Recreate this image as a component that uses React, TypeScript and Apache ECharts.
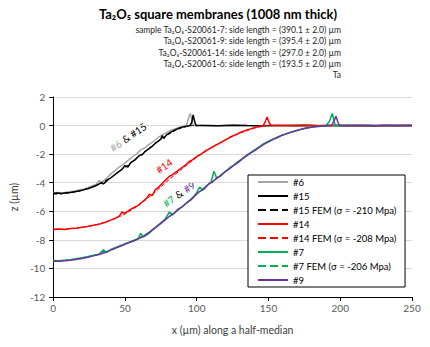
import React, { useEffect, useRef } from "react";
import * as echarts from "echarts";

const FONT = "Lato, 'DejaVu Sans', sans-serif";

const titleText = "Ta₂O₅ square membranes (1008 nm thick)";
const subtitleLines = [
  "sample Ta₂O₅-S20061-7: side length = (390.1 ± 2.0) µm",
  "Ta₂O₅-S20061-9: side length = (395.4 ± 2.0) µm",
  "Ta₂O₅-S20061-14: side length = (297.0 ± 2.0) µm",
  "Ta₂O₅-S20061-6: side length = (193.5 ± 2.0) µm",
  "Ta",
];

const xTicks = { min: 0, max: 250, interval: 50 };
const yTicks = { min: -12, max: 2, interval: 2 };

const flatTail: number[][] = [
  [105, 0.01], [115, -0.01], [125, 0.02], [135, 0], [145, -0.01], [155, 0.01],
  [165, 0], [175, 0.02], [185, -0.01], [195, 0], [205, 0.01], [215, 0],
  [225, -0.01], [235, 0.01], [250, 0],
];

const s6: number[][] = [
  [0, -4.7], [3, -4.68], [6, -4.72], [9, -4.66], [12, -4.62], [15, -4.58], [18, -4.5],
  [21, -4.45], [24, -4.35], [27, -4.22], [30, -4.1], [32, -3.85], [34, -3.95], [37, -3.7],
  [40, -3.4], [43, -3.15], [46, -2.9], [49, -2.7], [52, -2.45], [55, -2.2], [58, -2.0],
  [61, -1.7], [64, -1.55], [67, -1.3], [70, -1.1], [73, -0.85], [76, -0.65], [79, -0.5],
  [82, -0.32], [85, -0.22], [88, -0.12], [91, -0.05], [93, 0.05], [94.5, 0.6], [95.5, 0.85],
  [97, 0.2], [98, 0], [100, 0], ...flatTail,
];

const s15: number[][] = [
  [0, -4.74], [3, -4.72], [6, -4.76], [9, -4.7], [12, -4.68], [15, -4.63], [18, -4.58],
  [21, -4.5], [24, -4.42], [27, -4.32], [30, -4.2], [33, -4.02], [35, -4.08], [38, -3.8],
  [41, -3.6], [44, -3.35], [46, -3.2], [48, -3.05], [50, -2.8], [52, -2.9], [54, -2.6],
  [57, -2.4], [60, -2.1], [62, -2.05], [64, -1.82], [67, -1.6], [69, -1.45], [71, -1.25],
  [73, -1.1], [75, -0.95], [76, -0.7], [77, -0.9], [79, -0.65], [82, -0.45], [85, -0.3],
  [88, -0.16], [91, -0.08], [93, -0.04], [95, -0.02], [96.5, 0.2], [97.5, 0.75], [98.5, 0.3],
  [99.5, 0], ...flatTail,
];

const s15fem: number[][] = [
  [0, -4.8], [5, -4.78], [10, -4.73], [15, -4.65], [20, -4.54], [25, -4.38], [30, -4.18],
  [35, -3.93], [40, -3.64], [45, -3.3], [50, -2.93], [55, -2.53], [60, -2.12], [65, -1.72],
  [70, -1.33], [75, -0.96], [80, -0.63], [85, -0.35], [90, -0.14], [95, -0.02], [97, 0],
  [250, 0],
];

const s14: number[][] = [
  [0, -7.25], [4, -7.24], [8, -7.27], [12, -7.2], [16, -7.18], [20, -7.12], [24, -7.06],
  [28, -6.98], [32, -6.9], [36, -6.78], [40, -6.62], [43, -6.5], [46, -6.34], [48, -6.05],
  [50, -6.15], [53, -5.92], [56, -5.75], [59, -5.6], [62, -5.35], [65, -5.1], [67, -4.8],
  [69, -4.9], [71, -4.5], [73, -4.35], [75, -4.15], [77, -3.95], [79, -3.75], [81, -3.55],
  [83, -3.45], [85, -3.3], [87, -3.15], [89, -3.0], [91, -2.85], [93, -2.7], [95, -2.5],
  [97, -2.4], [99, -2.25], [101, -2.1], [103, -2.0], [105, -1.85], [107, -1.72], [109, -1.62],
  [111, -1.5], [113, -1.38], [115, -1.28], [117, -1.18], [119, -1.05], [121, -0.95],
  [123, -0.82], [125, -0.72], [128, -0.6], [131, -0.45], [134, -0.35], [137, -0.25],
  [140, -0.15], [143, -0.07], [146, -0.02], [147.5, 0.2], [149, 0.6], [150.5, 0.2], [152, 0],
  [160, 0.01], [170, -0.01], [180, 0.01], [190, 0], [200, 0.01], [215, -0.01], [230, 0.01],
  [250, 0],
];

const s14fem: number[][] = [
  [0, -7.3], [10, -7.24], [20, -7.12], [30, -6.93], [40, -6.64], [50, -6.2], [60, -5.55],
  [70, -4.75], [80, -3.85], [90, -3.0], [100, -2.22], [110, -1.55], [120, -1.0], [130, -0.53],
  [140, -0.18], [148, 0], [250, 0],
];

const s7: number[][] = [
  [0, -9.45], [4, -9.46], [8, -9.42], [12, -9.4], [16, -9.33], [20, -9.26], [24, -9.18],
  [28, -9.08], [32, -9.0], [35, -8.7], [37, -8.9], [40, -8.68], [44, -8.52], [48, -8.35],
  [52, -8.2], [56, -8.05], [59, -7.95], [61, -7.55], [63, -7.8], [66, -7.55], [69, -7.3],
  [72, -7.05], [75, -6.8], [78, -6.55], [81, -6.05], [83, -6.25], [86, -6.0], [89, -5.75],
  [92, -5.5], [95, -5.25], [98, -4.95], [100, -4.7], [102, -4.3], [104, -4.5], [107, -4.2],
  [110, -3.95], [112, -3.2], [114, -3.7], [117, -3.45], [120, -3.2], [123, -2.95],
  [126, -2.75], [129, -2.5], [132, -2.3], [135, -2.05], [138, -1.85], [141, -1.65],
  [144, -1.45], [147, -1.25], [150, -1.1], [153, -0.95], [156, -0.82], [159, -0.7],
  [162, -0.58], [166, -0.45], [170, -0.33], [174, -0.22], [178, -0.14], [182, -0.08],
  [186, -0.04], [190, -0.01], [192.5, 0.3], [194.5, 0.85], [196, 0.2], [197, 0],
  [205, 0.02], [212, -0.02], [220, 0.03], [228, -0.01], [236, 0.02], [243, -0.02], [250, 0.01],
];

const s7fem: number[][] = [
  [0, -9.52], [10, -9.42], [20, -9.27], [30, -9.05], [40, -8.74], [50, -8.3], [60, -7.85],
  [70, -7.25], [80, -6.45], [90, -5.67], [100, -4.75], [110, -3.95], [120, -3.2], [130, -2.45],
  [140, -1.75], [150, -1.12], [160, -0.65], [170, -0.33], [180, -0.1], [190, 0], [250, 0],
];

const s9: number[][] = [
  [0, -9.48], [4, -9.5], [8, -9.46], [12, -9.43], [16, -9.38], [20, -9.3], [24, -9.22],
  [28, -9.12], [32, -9.02], [36, -8.88], [40, -8.72], [44, -8.55], [48, -8.4], [52, -8.22],
  [56, -8.08], [60, -7.9], [63, -7.75], [66, -7.6], [69, -7.32], [72, -7.1], [75, -6.85],
  [78, -6.6], [81, -6.35], [84, -6.15], [87, -5.85], [90, -5.68], [93, -5.4], [96, -5.2],
  [99, -4.9], [102, -4.62], [105, -4.45], [108, -4.12], [111, -3.95], [114, -3.68],
  [117, -3.5], [120, -3.22], [123, -3.02], [126, -2.78], [129, -2.58], [132, -2.32],
  [135, -2.1], [138, -1.9], [141, -1.72], [144, -1.5], [147, -1.3], [150, -1.14], [153, -0.98],
  [156, -0.85], [159, -0.7], [162, -0.6], [166, -0.46], [170, -0.35], [174, -0.23],
  [178, -0.16], [182, -0.09], [186, -0.05], [190, -0.02], [194, 0.02], [195.5, 0.3],
  [197, 0.65], [198.5, 0.2], [199.5, 0], [206, -0.02], [214, 0.02], [222, -0.01],
  [230, 0.02], [238, -0.02], [245, 0.01], [250, 0],
];

const seriesDefs = [
  { name: "#6", data: s6, color: "#a6a6a6", width: 1.5, type: "solid" },
  { name: "#15", data: s15, color: "#000000", width: 1.5, type: "solid" },
  { name: "#15 FEM (σ = -210 Mpa)", data: s15fem, color: "#000000", width: 1, type: "dashed" },
  { name: "#14", data: s14, color: "#ff0000", width: 1.5, type: "solid" },
  { name: "#14 FEM (σ = -208 Mpa)", data: s14fem, color: "#ff0000", width: 1, type: "dashed" },
  { name: "#7", data: s7, color: "#00b050", width: 1.5, type: "solid" },
  { name: "#7 FEM (σ = -206 Mpa)", data: s7fem, color: "#00b050", width: 1, type: "dashed" },
  { name: "#9", data: s9, color: "#7030a0", width: 1.5, type: "solid" },
];

export default function App() {
  const ref = useRef<HTMLDivElement>(null);
  useEffect(() => {
    if (!ref.current) return;
    document.body.style.margin = "0";
    const chart = echarts.init(ref.current, null, { renderer: "svg" });
    const rot = 0.61;
    chart.setOption({
      animation: false,
      textStyle: { fontFamily: FONT },
      grid: { left: 52, right: 18, top: 97, bottom: 50 },
      xAxis: {
        type: "value",
        min: xTicks.min,
        max: xTicks.max,
        interval: xTicks.interval,
        name: "x (µm) along a half-median",
        nameLocation: "middle",
        nameGap: 27,
        nameTextStyle: { color: "#404040", fontSize: 10.5, fontFamily: FONT },
        axisLine: { show: true, onZero: false, lineStyle: { color: "#000", width: 1 } },
        axisTick: { show: true, length: 4, lineStyle: { color: "#000" } },
        axisLabel: { color: "#595959", fontSize: 10, margin: 6, fontFamily: FONT },
        splitLine: { show: false },
      },
      yAxis: {
        type: "value",
        min: yTicks.min,
        max: yTicks.max,
        interval: yTicks.interval,
        name: "z (µm)",
        nameLocation: "middle",
        nameGap: 30,
        nameTextStyle: { color: "#404040", fontSize: 10.5, fontFamily: FONT },
        axisLine: { show: true, onZero: false, lineStyle: { color: "#000", width: 1 } },
        axisTick: { show: true, length: 4, lineStyle: { color: "#000" } },
        axisLabel: { color: "#595959", fontSize: 10, margin: 8, fontFamily: FONT },
        splitLine: { show: true, lineStyle: { color: "#d9d9d9", width: 1 } },
      },
      legend: {
        orient: "vertical",
        left: 248,
        top: 175,
        itemWidth: 30,
        itemHeight: 10,
        itemGap: 4,
        itemTextGap: 4,
        padding: [2, 9, 2, 9],
        borderColor: "#000",
        borderWidth: 1,
        backgroundColor: "#fff",
        itemStyle: { opacity: 0 },
        textStyle: { fontSize: 9.5, color: "#000", fontFamily: FONT, lineHeight: 10 },
        data: seriesDefs.map((s) => s.name),
      },
      series: seriesDefs.map((s) => ({
        name: s.name,
        type: "line",
        data: s.data,
        symbol: "none",
        showSymbol: false,
        smooth: false,
        color: s.color,
        lineStyle: { color: s.color, width: s.width, type: s.type },
      })),
      graphic: [
        {
          type: "text",
          x: 218,
          y: 14,
          style: {
            text: titleText,
            align: "center",
            verticalAlign: "middle",
            fontSize: 13,
            fontWeight: "bold",
            fill: "#000",
            fontFamily: FONT,
          },
        },
        ...subtitleLines.map((t, i) => ({
          type: "text",
          x: 341,
          y: 30 + i * 11.25,
          style: {
            text: t,
            align: "right",
            verticalAlign: "middle",
            fontSize: 8.5,
            fill: "#262626",
            fontFamily: FONT,
          },
        })),
        {
          type: "text",
          x: 128,
          y: 137,
          rotation: rot,
          style: {
            text: "{g|#6} {k|& #15}",
            align: "center",
            verticalAlign: "middle",
            fontFamily: FONT,
            rich: {
              g: { fill: "#a6a6a6", fontSize: 10, fontFamily: FONT },
              k: { fill: "#000", fontSize: 10, fontFamily: FONT },
            },
          },
        },
        {
          type: "text",
          x: 164,
          y: 166,
          rotation: rot,
          style: {
            text: "#14",
            align: "center",
            verticalAlign: "middle",
            fontSize: 10,
            fill: "#ff0000",
            fontFamily: FONT,
          },
        },
        {
          type: "text",
          x: 179,
          y: 194,
          rotation: rot,
          style: {
            text: "{g|#7} {k|&} {p|#9}",
            align: "center",
            verticalAlign: "middle",
            fontFamily: FONT,
            rich: {
              g: { fill: "#00b050", fontSize: 10, fontFamily: FONT },
              k: { fill: "#000", fontSize: 10, fontFamily: FONT },
              p: { fill: "#7030a0", fontSize: 10, fontFamily: FONT },
            },
          },
        },
      ],
    });
    return () => chart.dispose();
  }, []);
  return <div ref={ref} style={{ width: 430, height: 347 }} />;
}
